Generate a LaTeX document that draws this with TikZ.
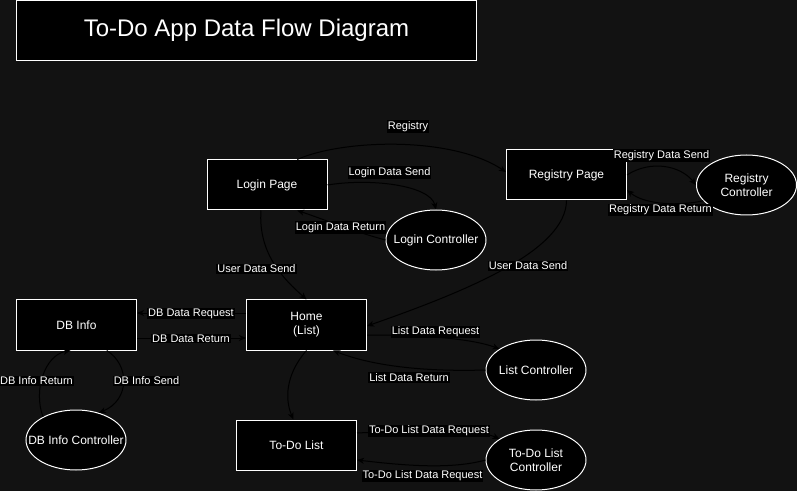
\documentclass[tikz,border=0pt]{standalone}
\usepackage{fontspec}
\setmainfont{Liberation Sans}
\usetikzlibrary{calc,arrows.meta,shapes.geometric}
\definecolor{bgc}{HTML}{121212}
\tikzset{
  box/.style={draw=white, fill=black, line width=1bp, minimum width=120bp, minimum height=50bp, inner sep=0pt, text=white, font=\fontsize{12bp}{14bp}\selectfont, align=center},
  ctrl/.style={ellipse, draw=white, fill=black, line width=1bp, minimum width=100bp, minimum height=60bp, inner sep=0pt},
  ctext/.style={text=white, inner sep=0pt, font=\fontsize{12bp}{14bp}\selectfont, align=center},
  lab/.style={fill=black, text=white, inner sep=1bp, font=\fontsize{11bp}{13bp}\selectfont},
  flow/.style={draw=black, line width=1bp, -{Stealth[length=7bp,width=6bp,inset=2bp]}},
}
\begin{document}
\begin{tikzpicture}[x=1bp,y=-1bp]
\fill[bgc] (0,0) rectangle (797,491);
\useasboundingbox (0,0) rectangle (797,491);
% title
\node[draw=white, fill=black, line width=1bp, minimum width=460bp, minimum height=60bp, text=white, font=\fontsize{24bp}{28bp}\selectfont] (title) at (246.5,30.5) {To-Do App Data Flow Diagram};
% nodes
\node[box] (login) at (267,185) {Login Page};
\node[box] (reg) at (566.5,175) {Registry Page};
\node[ctrl, label={[ctext]center:Registry\\Controller}] (regc) at (746.5,185) {};
\node[ctrl, label={[ctext]center:Login Controller}] (loginc) at (436,240) {};
\node[box] (dbinfo) at (76.5,325) {DB Info};
\node[ctrl, label={[ctext]center:DB Info Controller}] (dbc) at (76,440) {};
\node[box] (home) at (306.5,325) {Home\\(List)};
\node[box] (todo) at (296.5,445) {To-Do List};
\node[ctrl, label={[ctext]center:List Controller}] (listc) at (536,370) {};
\node[ctrl, label={[ctext]center:To-Do List\\Controller}] (todoc) at (536,460) {};
% connectors
\draw[flow] ($(login.north west)!0.75!(login.north east)$) .. controls (340,140) and (450,135) .. ($(reg.west)+(0,-3)$);
\draw[flow] (login.east) .. controls (370,178) and (430,185) .. (loginc.north);
\draw[flow] (loginc.west) .. controls (355,232) and (320,218) .. ($(login.south west)!0.75!(login.south east)$);
\draw[flow] ($(login.south west)!0.45!(login.south east)$) .. controls (258,255) and (285,280) .. (home.north);
\draw[flow] (reg.south) .. controls (566,250) and (470,290) .. ($(home.east)+(0,1)$);
\draw[flow] (reg.east) .. controls (650,160) and (680,165) .. (regc.west);
\draw[flow] (regc.200) .. controls (680,206) and (645,205) .. ($(reg.east)+(0,15)$);
\draw[flow] ($(home.west)+(0,-12)$) -- ($(dbinfo.east)+(0,-12)$);
\draw[flow] ($(dbinfo.east)+(0,13)$) -- ($(home.west)+(0,13)$);
\draw[flow] ($(dbinfo.south west)!0.75!(dbinfo.south east)$) .. controls (130,365) and (130,400) .. (dbc.50);
\draw[flow] (dbc.145) .. controls (33,390) and (45,355) .. ($(dbinfo.south west)!0.45!(dbinfo.south east)$);
\draw[flow] ($(home.east)+(0,10)$) .. controls (420,335) and (470,338) .. (listc.150);
\draw[flow] (listc.west) .. controls (420,372) and (370,365) .. ($(home.south west)!0.72!(home.south east)$);
\draw[flow] (home.south) .. controls (285,375) and (285,400) .. ($(todo.north west)!0.475!(todo.north east)$);
\draw[flow] ($(todo.east)+(0,-12)$) .. controls (420,430) and (480,430) .. (todoc.150);
\draw[flow] (todoc.west) .. controls (450,470) and (400,465) .. ($(todo.east)+(0,15)$);
% labels
\node[lab] (l1) at (408,126.5) {Registry};
\node[lab] (l2) at (389.5,172.5) {Login Data Send};
\node[lab] (l3) at (340.5,227.5) {Login Data Return};
\node[lab] (l4) at (256.5,269) {User Data Send};
\node[lab] (l5) at (528,266) {User Data Send};
\node[lab] (l6) at (661.5,155.5) {Registry Data Send};
\node[lab] (l7) at (660.5,210) {Registry Data Return};
\node[lab] (l8) at (191,313.5) {DB Data Request};
\node[lab] (l9) at (191,338.5) {DB Data Return};
\node[lab] (l10) at (146.5,381) {DB Info Send};
\node[lab] (l11) at (36.5,381) {DB Info Return};
\node[lab] (l12) at (435.5,332) {List Data Request};
\node[lab] (l13) at (409,377.5) {List Data Return};
\node[lab] (l14) at (429,431) {To-Do List Data Request};
\node[lab] (l15) at (422.5,476) {To-Do List Data Request};
\end{tikzpicture}
\end{document}
